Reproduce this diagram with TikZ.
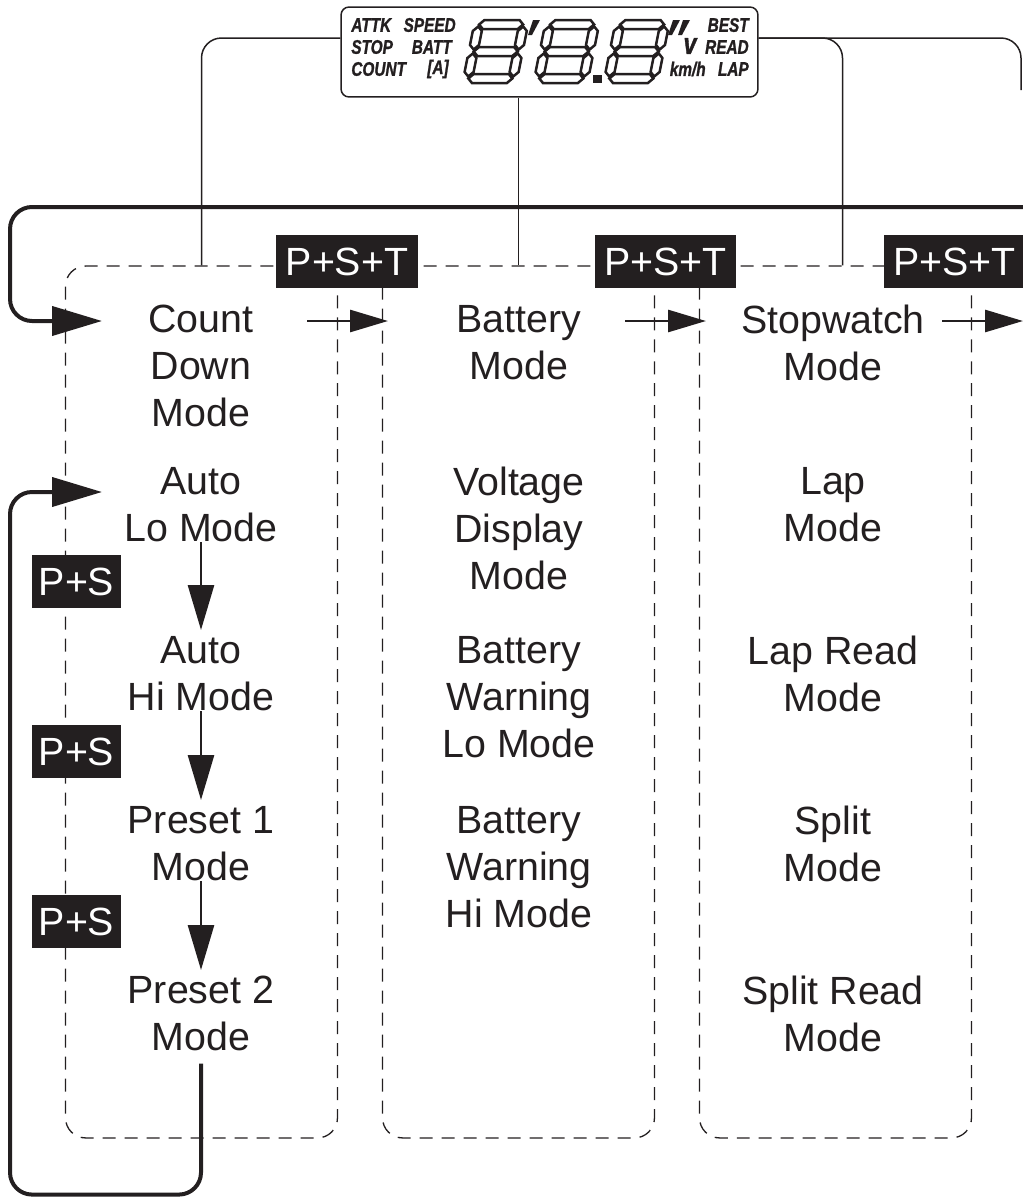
\documentclass[tikz,border=0pt]{standalone}
\usepackage{fontspec}
\setmainfont{Liberation Sans}
\newfontfamily\lcdfont[FakeStretch=0.78, BoldItalicFeatures={FakeBold=1.2}]{Liberation Sans}
\usetikzlibrary{arrows.meta,positioning}
\definecolor{ink}{HTML}{231F20}

% one LCD segment, horizontal or vertical, centred at (#1,#2)
\newcommand\hseg[2]{\draw[lcdseg] ({#1-22},#2) -- ({#1-17.5},{#2-4.5}) -- ({#1+17.5},{#2-4.5}) -- ({#1+22},#2) -- ({#1+17.5},{#2+4.5}) -- ({#1-17.5},{#2+4.5}) -- cycle;}
\newcommand\vseg[2]{\draw[lcdseg] (#1,{#2-11.5}) -- ({#1+4.5},{#2-7}) -- ({#1+4.5},{#2+7}) -- (#1,{#2+11.5}) -- ({#1-4.5},{#2+7}) -- ({#1-4.5},{#2-7}) -- cycle;}
\newcommand\lcdeight[1]{%
  \begin{scope}[shift={(#1,20)}, xslant=0.2]
    \hseg{26}{4.5}\hseg{26}{31.5}\hseg{26}{58.5}
    \vseg{3.5}{18}\vseg{48.5}{18}\vseg{3.5}{45}\vseg{48.5}{45}
  \end{scope}}

\begin{document}
\begin{tikzpicture}[
  x=0.02cm, y=-0.02cm,
  mode/.style={font=\fontsize{22.4}{26.75}\selectfont, text=ink, align=center, inner sep=0, anchor=north},
  keybox/.style={fill=ink, text=white, font=\fontsize{22.4}{26}\selectfont, minimum height=1.06cm, inner sep=0},
  modebox/.style={draw=ink, dash pattern=on 0.26cm off 0.18cm, line width=0.026cm, rounded corners=0.4cm,
    minimum width=5.44cm, minimum height=17.44cm, inner sep=0},
  lcd/.style={draw=ink, line width=0.03cm, rounded corners=0.16cm, minimum width=8.34cm, minimum height=1.8cm, inner sep=0},
  lcdtxt/.style={font=\lcdfont\bfseries\itshape\fontsize{11.2}{12}\selectfont, text=ink, inner sep=0},
  lcdseg/.style={draw=ink, line width=0.05cm},
  wire/.style={draw=ink, line width=0.03cm, rounded corners=0.4cm},
  modearrow/.style={draw=ink, line width=0.055cm, -{Triangle[length=0.76cm,width=0.44cm]}},
  downarrow/.style={draw=ink, line width=0.055cm, shorten >=0.12cm, -{Triangle[length=0.9cm,width=0.52cm]}},
  loopline/.style={draw=ink, line width=0.08cm, rounded corners=0.44cm, -{Triangle[length=1cm,width=0.58cm]}},
]
\useasboundingbox (0,0) rectangle (1023,1197);

% columns
\node[modebox] (col1) at (201.5,702) {};
\node[modebox] (col2) at (518.5,702) {};
\node[modebox] (col3) at (835.5,702) {};

% display
\node[lcd] (lcd) at (549.5,52) {};
\node[lcdtxt, anchor=west] (attk) at (351,25) {ATTK};
\node[lcdtxt, anchor=west] (stop) at (351,47) {STOP};
\node[lcdtxt, anchor=west] (count) at (351,69) {COUNT};
\node[lcdtxt, anchor=east] (speed) at (456,25) {SPEED};
\node[lcdtxt, anchor=east] (batt) at (452,47) {BATT};
\node[lcdtxt, anchor=east] (amp) at (449,69) {[A]};
\node[lcdtxt, anchor=east] (best) at (749,25) {BEST};
\node[lcdtxt, anchor=east] (read) at (749,47) {READ};
\node[lcdtxt, anchor=east] (laps) at (749,69) {LAP};
\node[lcdtxt, anchor=east] (kmh) at (706,69) {km/h};
\node[lcdtxt, font=\lcdfont\bfseries\itshape\fontsize{17}{17}\selectfont] (volt) at (690,46) {v};
\lcdeight{476}
\lcdeight{547}
\lcdeight{617}
\fill[ink] (533,20) -- (540,20) -- (532,35) -- (528,35) -- cycle;
\fill[ink] (593,75) rectangle (602,83);
\fill[ink] (673,20) -- (680,20) -- (672,35) -- (668,35) -- cycle;
\fill[ink] (683,20) -- (690,20) -- (682,35) -- (678,35) -- cycle;

% display to columns
\coordinate (offR) at (1021,90);
\draw[wire] ([yshift=0.28cm]lcd.west) -| (col1.north);
\draw[wire] (lcd.south -| col2.north) -- (col2.north);
\draw[wire] ([yshift=0.28cm]lcd.east) -| ([xshift=0.14cm]col3.north);
\draw[wire] ([yshift=0.28cm]lcd.east) -| (offR);

% key combinations
\node[keybox, minimum width=2.84cm] (pst1) at (347,261.5) {P+S+T};
\node[keybox, minimum width=2.84cm] (pst2) at (665.5,261.5) {P+S+T};
\node[keybox, minimum width=2.84cm] (pst3) at (954.5,261.5) {P+S+T};
\node[keybox, minimum width=1.78cm] (ps1) at (76.5,581.5) {P+S};
\node[keybox, minimum width=1.78cm] (ps2) at (76.5,751.5) {P+S};
\node[keybox, minimum width=1.78cm] (ps3) at (76.5,921.5) {P+S};

% modes
\node[mode] (cdm) at (201,305) {Count\\Down\\Mode};
\node[mode] (alo) at (201,467) {Auto\\Lo Mode};
\node[mode] (ahi) at (201,636) {Auto\\Hi Mode};
\node[mode] (pr1) at (201,806) {Preset 1\\Mode};
\node[mode] (pr2) at (201,976) {Preset 2\\Mode};
\node[mode] (bat) at (519,305) {Battery\\Mode};
\node[mode] (vdm) at (519,467) {Voltage\\Display\\Mode};
\node[mode] (bwl) at (519,636) {Battery\\Warning\\Lo Mode};
\node[mode] (bwh) at (519,806) {Battery\\Warning\\Hi Mode};
\node[mode] (swm) at (833,305) {Stopwatch\\Mode};
\node[mode] (lap) at (833,467) {Lap\\Mode};
\node[mode] (lrm) at (833,636) {Lap Read\\Mode};
\node[mode] (spl) at (833,806) {Split\\Mode};
\node[mode] (srm) at (833,976) {Split Read\\Mode};

% P+S+T steps
\foreach \i/\xa in {1/307,2/625,3/942} {
  \coordinate (out\i) at (\xa,321);
  \coordinate (in\i) at (\xa+81,321);
  \draw[modearrow] (out\i) -- (in\i);
}

% P+S steps
\draw[downarrow] (alo.south) -- (ahi.north);
\draw[downarrow] (ahi.south) -- (pr1.north);
\draw[downarrow] (pr1.south) -- (pr2.north);

% loops back
\coordinate (loopR) at (1023,207);
\coordinate (cdmin) at (102,321);
\coordinate (aloin) at (102,492);
\draw[loopline] (loopR) -| ([xshift=-1.84cm]cdmin) -- (cdmin);
\draw[loopline] ([yshift=-0.24cm]pr2.south) -- ++(0,131) -| ([xshift=-1.84cm]aloin) -- (aloin);
\end{tikzpicture}
\end{document}
